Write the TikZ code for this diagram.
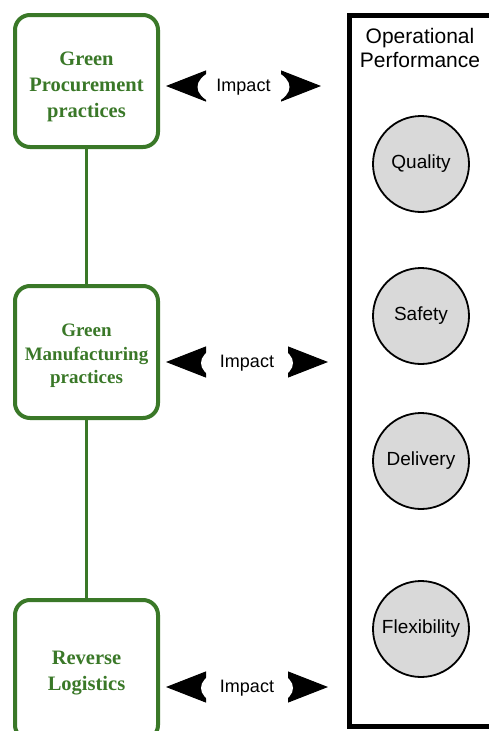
\documentclass[tikz,border=0pt]{standalone}
\usepackage{fontspec}
\setmainfont{Liberation Serif}
\setsansfont{Liberation Sans}
\usetikzlibrary{arrows.meta,shapes.geometric}
\definecolor{gr}{RGB}{58,120,40}
\definecolor{cg}{RGB}{217,217,217}
\tikzset{
  gbox/.style={draw=gr, line width=4pt, rounded corners=15pt, minimum width=143pt, inner sep=0pt},
  gtext/.style={text=gr, font=\bfseries\fontsize{20.5}{26}\selectfont, align=center, inner sep=0pt},
  gline/.style={draw=gr, line width=2.5pt},
  perf/.style={circle, draw=black, line width=1.8pt, fill=cg, minimum size=96pt, font=\sffamily\fontsize{19}{22}\selectfont, inner sep=0pt},
  impact/.style={ellipse, fill=white, minimum width=92pt, minimum height=44pt, inner sep=0pt, font=\sffamily\fontsize{18}{20}\selectfont},
  dbl/.style={line width=1pt, {Triangle[length=40pt,width=31pt]}-{Triangle[length=40pt,width=31pt]}}
}
\begin{document}
\begin{tikzpicture}[x=1pt,y=-1pt]
\useasboundingbox (0,0) rectangle (489,731);
% right frame
\draw[line width=5pt] (495,15.5) -- (349.5,15.5) -- (349.5,726) -- (495,726);
\node[font=\sffamily\fontsize{21}{24}\selectfont, align=center] (title) at (420,48) {Operational\\Performance};
\node[perf] (q) at (421,164) {Quality};
\node[perf] (s) at (421,316) {Safety};
\node[perf] (d) at (421,461) {Delivery};
\node[perf] (f) at (421,629) {Flexibility};
% green boxes
\node[gbox, minimum height=132pt] (b1) at (86.5,81) {};
\node[gtext] (t1) at (86.5,87) {Green\\Procurement\\practices};
\node[gbox, minimum height=132pt] (b2) at (86.5,352) {};
\node[gtext, font=\bfseries\fontsize{19}{23.5}\selectfont] (t2) at (86.5,356) {Green\\Manufacturing\\practices};
\node[gbox, minimum height=140pt] (b3) at (86.5,670) {};
\node[gtext] (t3) at (86.5,673) {Reverse\\Logistics};
\draw[gline] (b1.south) -- (b2.north);
\draw[gline] (b2.south) -- (b3.north);
% impact arrows
\coordinate (l1) at (166,86); \coordinate (r1) at (321,86);
\coordinate (l2) at (166,362); \coordinate (r2) at (328,362);
\coordinate (l3) at (166,687); \coordinate (r3) at (328,687);
\draw[dbl] (l1) -- (r1);
\draw[dbl] (l2) -- (r2);
\draw[dbl] (l3) -- (r3);
\node[impact] (i1) at (243.5,87) {Impact};
\node[impact] (i2) at (247,363) {Impact};
\node[impact] (i3) at (247,688) {Impact};
\end{tikzpicture}
\end{document}
